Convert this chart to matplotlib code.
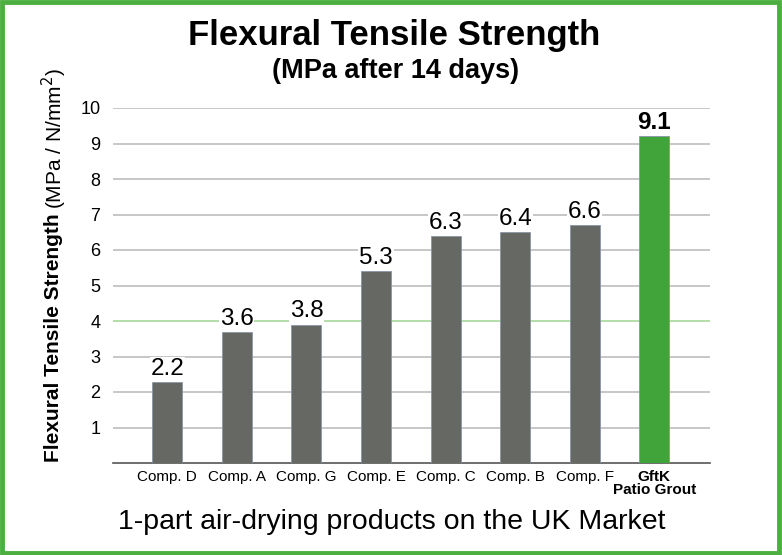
import matplotlib.pyplot as plt
from matplotlib.patches import Rectangle

# data
products = ['Comp. D', 'Comp. A', 'Comp. G', 'Comp. E', 'Comp. C', 'Comp. B', 'Comp. F', 'GftK\nPatio Grout']
bar_heights = [2.28, 3.7, 3.9, 5.4, 6.4, 6.5, 6.7, 9.2]
value_labels = ['2.2', '3.6', '3.8', '5.3', '6.3', '6.4', '6.6', '9.1']
y_ticks = [1, 2, 3, 4, 5, 6, 7, 8, 9, 10]

c_grey = '#666864'
c_green = '#41a43a'
c_frame = '#4caf3f'
c_grid = '#bdbdbd'
c_grid_green = '#a8d89c'

plt.rcParams['font.family'] = ['Liberation Sans', 'DejaVu Sans']

fig = plt.figure(figsize=(7.82, 5.55), dpi=100)
W, H = 782, 555
ax = fig.add_axes([113 / W, 1 - 463 / H, (710 - 113) / W, (463 - 108) / H])

colors = [c_grey] * (len(products) - 1) + [c_green]
x = list(range(len(products)))
ax.bar(x, bar_heights, width=0.43, color=colors, edgecolor='#8a96a8', linewidth=0.6, zorder=3)

ax.set_xlim(-0.78, 7.8)
ax.set_ylim(0, 10)

# gridlines, the one at 4 is green
for t in y_ticks:
    ax.axhline(t, color=c_grid_green if t == 4 else c_grid, linewidth=1.2, zorder=1)

for s in ['top', 'right', 'left']:
    ax.spines[s].set_visible(False)
ax.spines['bottom'].set_color('#555555')
ax.spines['bottom'].set_linewidth(1.2)

ax.set_yticks(y_ticks)
ax.set_yticklabels([str(t) for t in y_ticks], fontsize=13)
ax.tick_params(axis='y', length=0, pad=9)
ax.set_xticks(x)
ax.set_xticklabels(products, fontsize=11, linespacing=0.95)
ax.tick_params(axis='x', length=0, pad=5)
ax.get_xticklabels()[-1].set_fontweight('bold')

for xi, h, lab in zip(x, bar_heights, value_labels):
    bold = lab == value_labels[-1]
    ax.text(xi, h + 0.06, lab, ha='center', va='bottom', fontsize=17.5 if not bold else 17.5,
            fontweight='bold' if bold else 'normal', zorder=4,
            bbox=dict(facecolor='white', edgecolor='none', pad=0.5))

# titles
fig.text(394 / W, 1 - 35 / H, 'Flexural Tensile Strength', ha='center', va='center',
         fontsize=25, fontweight='bold')
fig.text(396 / W, 1 - 71 / H, '(MPa after 14 days)', ha='center', va='center',
         fontsize=19.5, fontweight='bold')
fig.text(392 / W, 1 - 522 / H, '1-part air-drying products on the UK Market', ha='center',
         va='center', fontsize=20.5)

# y label: bold part then regular part
t1 = fig.text(54 / W, 1 - 462 / H, 'Flexural Tensile Strength', rotation=90, ha='center',
              va='bottom', fontsize=15, fontweight='bold')
fig.canvas.draw()
bb = t1.get_window_extent()
fig.text(54 / W, (bb.y1 + 4) / H, '(MPa / N/mm$^2$)', rotation=90, ha='center',
         va='bottom', fontsize=15)

# green frame
fig.patches.append(Rectangle((0.003, 0.004), 0.993, 0.992, transform=fig.transFigure,
                             fill=False, edgecolor=c_frame, linewidth=3.5))

fig.savefig('out.png', dpi=100)
